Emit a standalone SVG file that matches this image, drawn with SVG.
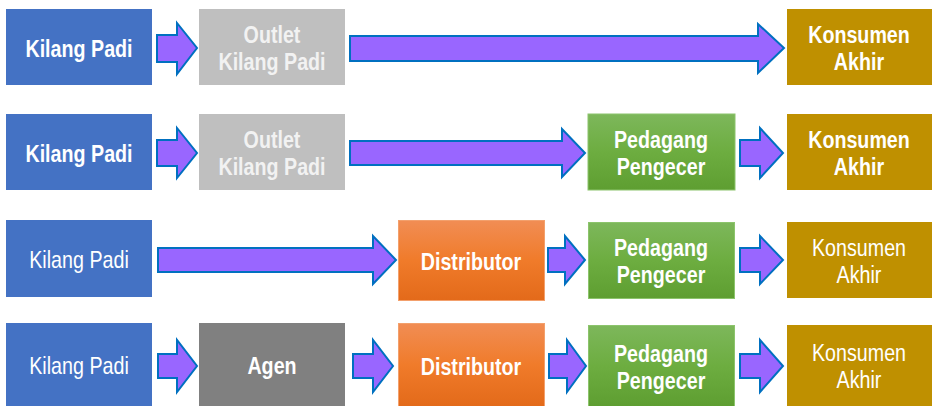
<svg xmlns="http://www.w3.org/2000/svg" width="932" height="406" viewBox="0 0 932 406">
<defs>
<linearGradient id="gOr" x1="0" y1="0" x2="0" y2="1"><stop offset="0" stop-color="#F18D54"/><stop offset="0.5" stop-color="#F07B2A"/><stop offset="1" stop-color="#E36A1A"/></linearGradient>
<linearGradient id="gGr" x1="0" y1="0" x2="0" y2="1"><stop offset="0" stop-color="#7DB75B"/><stop offset="0.5" stop-color="#6DAD40"/><stop offset="1" stop-color="#5E9E31"/></linearGradient>
</defs>
<style>
text{font-family:"Liberation Sans",Arial,sans-serif;font-size:24px;fill:#FFFFFF;text-anchor:middle}
.b{font-weight:bold}
.lt{fill:#F2F2F2}
.blue{fill:#4472C4}
.gray{fill:#BFBFBF}
.dgray{fill:#808080}
.or{fill:url(#gOr);stroke:#F3A06C;stroke-width:1}
.gr{fill:url(#gGr);stroke:#8CC46C;stroke-width:1}
.gold{fill:#BF9000}
.arr{fill:#9966FF;stroke:#0070C0;stroke-width:2;stroke-linejoin:miter}
</style>
<rect width="932" height="406" fill="#FFFFFF"/>
<!-- Row 1 -->
<g id="r1-kilang"><rect class="blue" x="6" y="9" width="146" height="76"/><text class="b" transform="translate(79 57) scale(0.82 1)">Kilang Padi</text></g>
<g id="r1-outlet"><rect class="gray" x="199" y="9" width="146" height="76"/><text class="b lt" transform="translate(272 43) scale(0.82 1)">Outlet</text><text class="b lt" transform="translate(272 70) scale(0.82 1)">Kilang Padi</text></g>
<g id="r1-konsumen"><rect class="gold" x="787" y="9" width="145" height="76"/><text class="b" transform="translate(859 43) scale(0.82 1)">Konsumen</text><text class="b" transform="translate(859 70) scale(0.82 1)">Akhir</text></g>
<!-- Row 2 -->
<g id="r2-kilang"><rect class="blue" x="6" y="114" width="146" height="76"/><text class="b" transform="translate(79 162) scale(0.82 1)">Kilang Padi</text></g>
<g id="r2-outlet"><rect class="gray" x="199" y="114" width="146" height="76"/><text class="b lt" transform="translate(272 148) scale(0.82 1)">Outlet</text><text class="b lt" transform="translate(272 175) scale(0.82 1)">Kilang Padi</text></g>
<g id="r2-pedagang"><rect class="gr" x="588" y="114" width="147" height="76"/><text class="b" transform="translate(661 148) scale(0.82 1)">Pedagang</text><text class="b" transform="translate(661 175) scale(0.82 1)">Pengecer</text></g>
<g id="r2-konsumen"><rect class="gold" x="787" y="114" width="145" height="76"/><text class="b" transform="translate(859 148) scale(0.82 1)">Konsumen</text><text class="b" transform="translate(859 175) scale(0.82 1)">Akhir</text></g>
<!-- Row 3 -->
<g id="r3-kilang"><rect class="blue" x="6" y="220" width="146" height="77"/><text transform="translate(79 268) scale(0.82 1)">Kilang Padi</text></g>
<g id="r3-distributor"><rect class="or" x="398.5" y="220.5" width="146" height="80"/><text class="b" transform="translate(471 270) scale(0.82 1)">Distributor</text></g>
<g id="r3-pedagang"><rect class="gr" x="588.5" y="222.5" width="146" height="76"/><text class="b" transform="translate(661 256) scale(0.82 1)">Pedagang</text><text class="b" transform="translate(661 283) scale(0.82 1)">Pengecer</text></g>
<g id="r3-konsumen"><rect class="gold" x="787" y="222" width="145" height="76"/><text transform="translate(859 256) scale(0.82 1)">Konsumen</text><text transform="translate(859 283) scale(0.82 1)">Akhir</text></g>
<!-- Row 4 -->
<g id="r4-kilang"><rect class="blue" x="6" y="323" width="146" height="83"/><text transform="translate(79 374) scale(0.82 1)">Kilang Padi</text></g>
<g id="r4-agen"><rect class="dgray" x="199" y="323" width="146" height="83"/><text class="b" transform="translate(272 374) scale(0.82 1)">Agen</text></g>
<g id="r4-distributor"><rect class="or" x="398.5" y="323.5" width="146" height="83"/><text class="b" transform="translate(471 375) scale(0.82 1)">Distributor</text></g>
<g id="r4-pedagang"><rect class="gr" x="588.5" y="325.5" width="146" height="81"/><text class="b" transform="translate(661 362) scale(0.82 1)">Pedagang</text><text class="b" transform="translate(661 389) scale(0.82 1)">Pengecer</text></g>
<g id="r4-konsumen"><rect class="gold" x="787" y="325" width="145" height="81"/><text transform="translate(859 361) scale(0.82 1)">Konsumen</text><text transform="translate(859 388) scale(0.82 1)">Akhir</text></g>
<!-- Connectors -->
<g id="connectors">
<polygon class="arr" points="157,35 177,35 177,23 197,48 177,74 177,62 157,62"/>
<polygon class="arr" points="350,36 758,36 758,24 784,48 758,73 758,61 350,61"/>
<polygon class="arr" points="157,140 177,140 177,128 197,153 177,178 177,166 157,166"/>
<polygon class="arr" points="350,141 562,141 562,129 585,153 562,177 562,165 350,165"/>
<polygon class="arr" points="740,140 760,140 760,128 783,153 760,178 760,166 740,166"/>
<polygon class="arr" points="158,248 373,248 373,236 396,260 373,284 373,272 158,272"/>
<polygon class="arr" points="548,248 565,248 565,236 585,260 565,284 565,272 548,272"/>
<polygon class="arr" points="740,248 760,248 760,236 783,260 760,284 760,272 740,272"/>
<polygon class="arr" points="158,354 177,354 177,340 197,366 177,392 177,378 158,378"/>
<polygon class="arr" points="353,354 373,354 373,340 393,366 373,392 373,378 353,378"/>
<polygon class="arr" points="549,354 567,354 567,340 586,366 567,392 567,378 549,378"/>
<polygon class="arr" points="740,354 760,354 760,340 783,366 760,392 760,378 740,378"/>
</g>
</svg>
